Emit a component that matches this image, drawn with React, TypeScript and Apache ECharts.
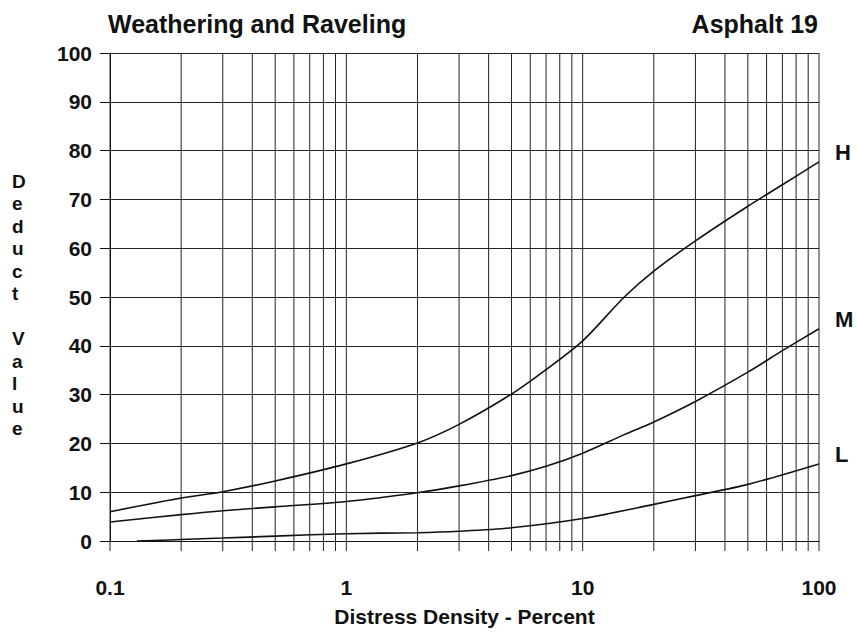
import React, { useEffect, useRef } from "react";
import * as echarts from "echarts";

const titleText = "Weathering and Raveling";
const subtitleText = "Asphalt 19";
const xAxisName = "Distress Density - Percent";
const yAxisName = "Deduct Value";

const gridXValues = [
  0.1, 0.2, 0.3, 0.4, 0.5, 0.6, 0.7, 0.8, 0.9,
  1, 2, 3, 4, 5, 6, 7, 8, 9,
  10, 20, 30, 40, 50, 60, 70, 80, 90, 100,
];

const xsH = [0.1, 0.2, 0.3, 0.5, 1, 2, 3, 5, 7, 10, 15, 20, 30, 50, 70, 100];
const highValues = [6, 8.8, 10.1, 12.3, 15.8, 20.1, 23.9, 30.1, 35.1, 41, 50, 55.3, 61.5, 68.6, 73, 77.7];

const xsM = [0.1, 0.2, 0.3, 0.5, 1, 2, 3, 5, 7, 10, 15, 20, 30, 50, 70, 100];
const mediumValues = [3.9, 5.4, 6.2, 7, 8.1, 9.9, 11.3, 13.4, 15.3, 18, 21.8, 24.4, 28.6, 34.6, 39, 43.5];

const xsL = [0.13, 0.2, 0.3, 0.5, 1, 2, 3, 5, 10, 20, 30, 50, 100];
const lowValues = [0, 0.3, 0.6, 1.0, 1.5, 1.7, 2.0, 2.7, 4.6, 7.5, 9.3, 11.6, 15.8];

const FONT = "Liberation Sans, Arial, sans-serif";

export default function App() {
  const ref = useRef<HTMLDivElement>(null);
  useEffect(() => {
    if (!ref.current) return;
    const chart = echarts.init(ref.current, null, { renderer: "svg" });
    const curve = (name: string, xs: number[], ys: number[]) => ({
      name,
      type: "line",
      data: xs.map((x, i) => [x, ys[i]]),
      smooth: 0.3,
      showSymbol: false,
      symbol: "none",
      lineStyle: { color: "#111", width: 1.6 },
      z: 5,
      endLabel: {
        show: true,
        formatter: "{a}",
        distance: 16,
        offset: [0, -9],
        color: "#111",
        fontFamily: FONT,
        fontWeight: "bold",
        fontSize: 22,
      },
    });
    chart.setOption({
      animation: false,
      backgroundColor: "#fff",
      title: [
        {
          text: titleText,
          left: 103,
          top: 6,
          textStyle: { fontFamily: FONT, fontWeight: "bold", fontSize: 25, color: "#111" },
        },
        {
          text: subtitleText,
          right: 35,
          top: 6,
          textStyle: { fontFamily: FONT, fontWeight: "bold", fontSize: 25, color: "#111" },
        },
      ],
      graphic: [
        {
          type: "text",
          left: 12,
          top: 170,
          style: {
            text: yAxisName.split("").map((c) => (c === " " ? "" : c)).join("\n"),
            font: `bold 19px ${FONT}`,
            fill: "#111",
            lineHeight: 22.5,
            align: "center",
          },
        },
      ],
      grid: { left: 110, right: 39, top: 53, bottom: 80 },
      xAxis: {
        type: "log",
        logBase: 10,
        min: 0.1,
        max: 100,
        name: xAxisName,
        nameLocation: "middle",
        nameGap: 65,
        nameTextStyle: { fontFamily: FONT, fontWeight: "bold", fontSize: 21, color: "#111" },
        axisLine: { show: true, lineStyle: { color: "#111", width: 1 } },
        axisTick: { show: false },
        splitLine: { show: false },
        axisLabel: {
          margin: 36,
          fontFamily: FONT,
          fontWeight: "bold",
          fontSize: 21,
          color: "#111",
          formatter: (v: number) => String(v),
        },
      },
      yAxis: {
        type: "value",
        min: 0,
        max: 100,
        interval: 10,
        axisLine: { show: true, lineStyle: { color: "#111", width: 1 } },
        axisTick: { show: true, length: 10, lineStyle: { color: "#111" } },
        splitLine: { show: true, lineStyle: { color: "#222", width: 1 } },
        axisLabel: {
          margin: 18,
          fontFamily: FONT,
          fontWeight: "bold",
          fontSize: 21,
          color: "#111",
        },
      },
      series: [
        {
          type: "custom",
          silent: true,
          clip: false,
          z: 1,
          data: gridXValues.map((x) => [x, 0]),
          encode: { x: 0, y: 1 },
          renderItem: (params: any, api: any) => {
            const x = api.value(0);
            const top = api.coord([x, 100]);
            const bottom = api.coord([x, 0]);
            return {
              type: "line",
              shape: { x1: top[0], y1: top[1], x2: bottom[0], y2: bottom[1] + 10 },
              style: { stroke: "#222", lineWidth: 1 },
            };
          },
        },
        curve("H", xsH, highValues),
        curve("M", xsM, mediumValues),
        curve("L", xsL, lowValues),
      ],
    });
    return () => chart.dispose();
  }, []);
  return (
    <div
      ref={ref}
      style={{ position: "fixed", left: 0, top: 0, width: 858, height: 632 }}
    />
  );
}
